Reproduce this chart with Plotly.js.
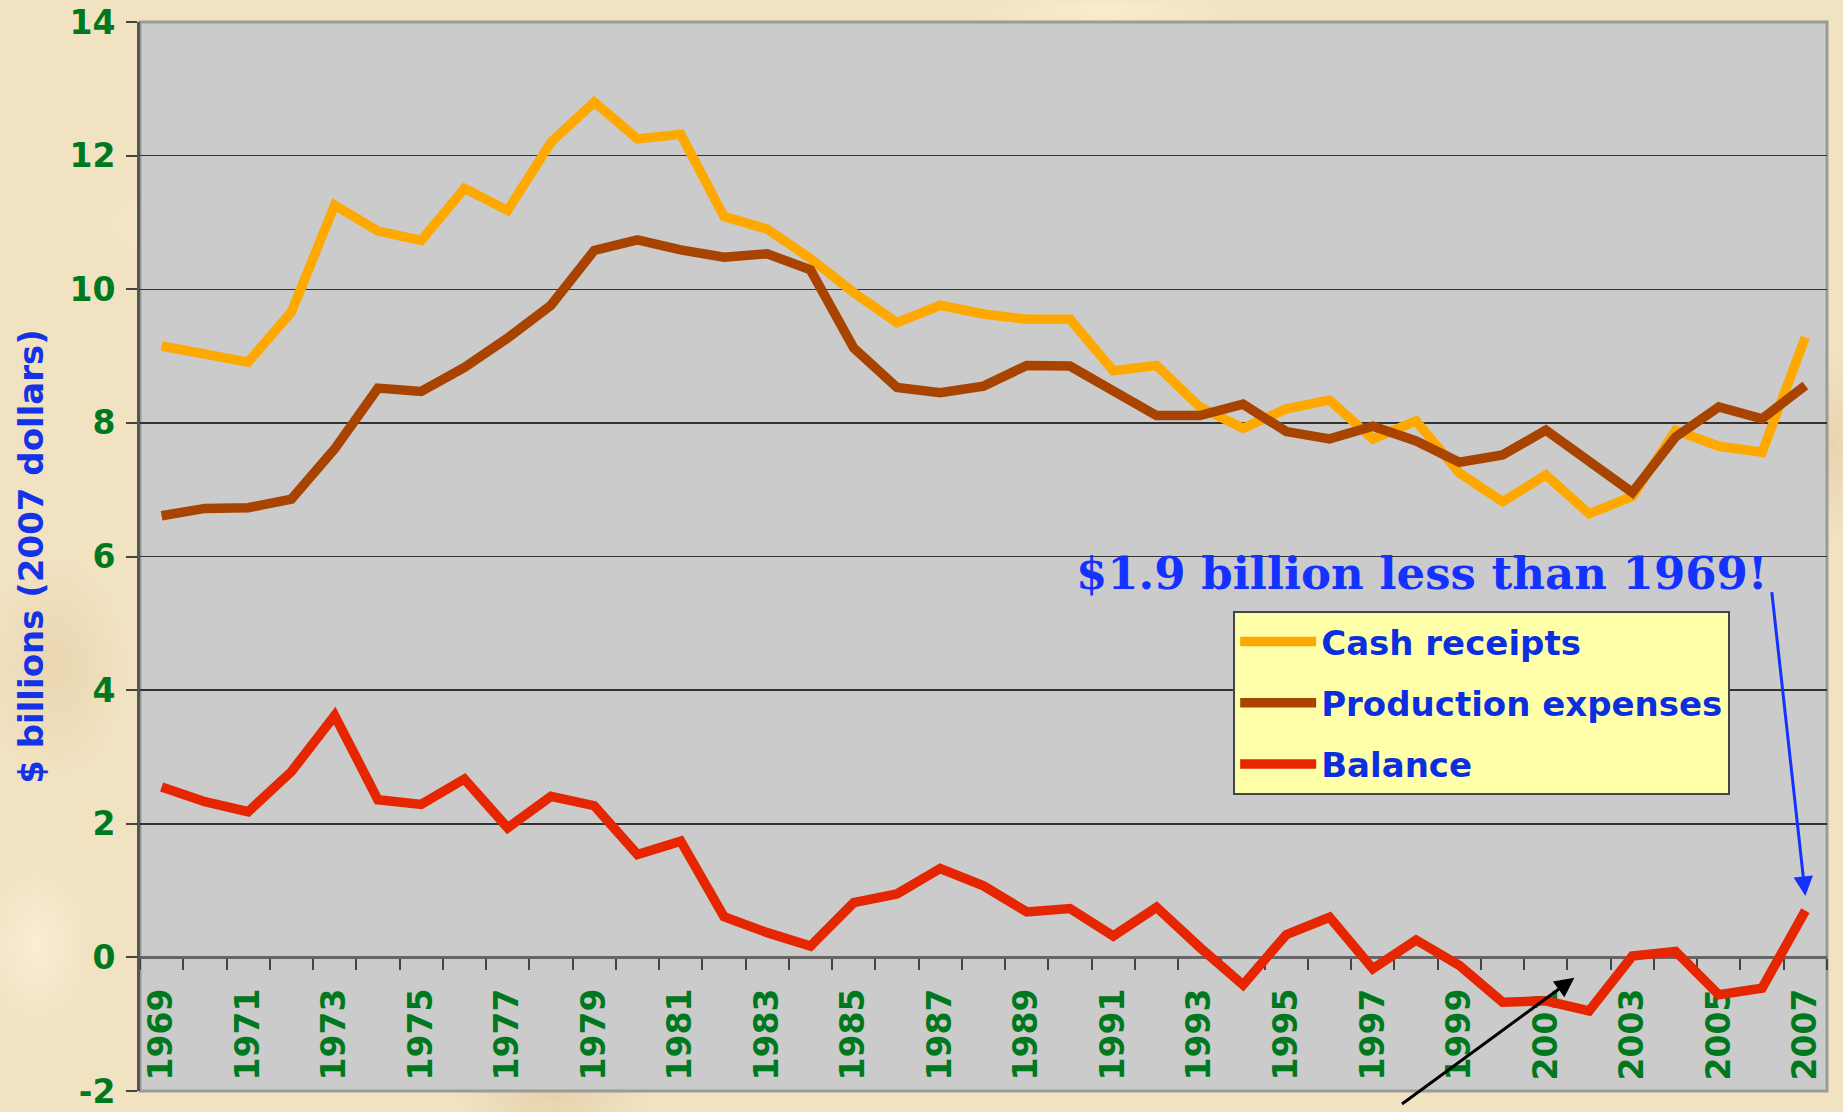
<!DOCTYPE html>
<html>
<head>
<meta charset="utf-8">
<script src="https://cdn.plot.ly/plotly-3.0.1.min.js"></script>
<style>
  html, body { margin: 0; padding: 0; }
  body {
    width: 1843px; height: 1112px; overflow: hidden;
    background-color: #f1e2c2;
    background-image:
      radial-gradient(ellipse 120px 60px at 10% 20%, rgba(255,245,220,0.6), rgba(255,245,220,0) 70%),
      radial-gradient(ellipse 140px 80px at 30% 98%, rgba(215,190,145,0.45), rgba(215,190,145,0) 70%),
      radial-gradient(ellipse 100px 160px at 3% 60%, rgba(225,200,155,0.45), rgba(225,200,155,0) 70%),
      radial-gradient(ellipse 90px 140px at 99% 40%, rgba(220,195,150,0.45), rgba(220,195,150,0) 70%),
      radial-gradient(ellipse 200px 30px at 60% 1%, rgba(255,240,210,0.7), rgba(255,240,210,0) 70%),
      radial-gradient(ellipse 80px 120px at 2% 85%, rgba(255,245,225,0.6), rgba(255,245,225,0) 70%);
  }
  #chart { width: 1843px; height: 1112px; }
</style>
</head>
<body>
<div id="chart"></div>
<script>
// ---- data ----
const years = [1969,1970,1971,1972,1973,1974,1975,1976,1977,1978,1979,1980,1981,1982,1983,1984,1985,1986,1987,1988,1989,1990,1991,1992,1993,1994,1995,1996,1997,1998,1999,2000,2001,2002,2003,2004,2005,2006,2007];

const cashReceipts = [9.15,9.04,8.91,9.66,11.26,10.87,10.73,11.51,11.18,12.2,12.8,12.25,12.32,11.09,10.9,10.46,9.95,9.5,9.76,9.63,9.55,9.55,8.78,8.86,8.24,7.92,8.21,8.34,7.76,8.03,7.25,6.82,7.22,6.64,6.9,7.89,7.65,7.56,9.28];

const productionExpenses = [6.61,6.72,6.73,6.86,7.61,8.52,8.47,8.83,9.27,9.76,10.58,10.74,10.59,10.48,10.53,10.29,9.12,8.53,8.45,8.55,8.86,8.85,8.48,8.11,8.11,8.28,7.87,7.76,7.95,7.73,7.41,7.52,7.89,7.41,6.96,7.79,8.24,8.06,8.56];

const balance = [2.55,2.33,2.18,2.78,3.62,2.36,2.29,2.67,1.94,2.41,2.27,1.54,1.74,0.61,0.37,0.17,0.82,0.95,1.33,1.07,0.68,0.73,0.32,0.75,0.15,-0.41,0.34,0.60,-0.17,0.26,-0.12,-0.67,-0.65,-0.80,0.02,0.09,-0.56,-0.46,0.70];

const seriesNames = ["Cash receipts", "Production expenses", "Balance"];
const yTickValues = [-2, 0, 2, 4, 6, 8, 10, 12, 14];
const yTickLabels = ["-2", "0", "2", "4", "6", "8", "10", "12", "14"];
const yTitle = "$ billions (2007 dollars)";
const noteText = "$1.9 billion less than 1969!";

// ---- styles ----
const colors = ["#FFA800", "#A94400", "#E62600"];
const green = "#00781E";
const blue = "#0A2EE0";
const sansBold = {family: "DejaVu Sans, Verdana, sans-serif", weight: "bold"};

const seriesData = [cashReceipts, productionExpenses, balance];
const traces = seriesData.map((vals, i) => ({
  type: "scatter",
  mode: "lines",
  x: years,
  y: vals,
  name: seriesNames[i],
  legendgroup: "g" + i,
  line: {color: colors[i], width: 9.5},
  hoverinfo: "skip"
}));

const layout = {
  width: 1843,
  height: 1112,
  margin: {l: 140, r: 16, t: 22, b: 21, pad: 0},
  paper_bgcolor: "rgba(0,0,0,0)",
  plot_bgcolor: "#CBCBCB",
  showlegend: true,
  legend: {
    x: 0.648, y: 0.449, xanchor: "left", yanchor: "top",
    bgcolor: "#FFFFAA",
    bordercolor: "#444",
    borderwidth: 2,
    font: Object.assign({size: 34, color: blue}, sansBold),
    traceorder: "grouped",
    tracegroupgap: 14,
    itemwidth: 76
  },
  xaxis: {
    range: [1968.5, 2007.5],
    anchor: "free",
    position: 0.125,
    showgrid: false,
    zeroline: false,
    showline: true,
    linecolor: "#666",
    linewidth: 3,
    tickmode: "linear",
    tick0: 1969,
    dtick: 2,
    ticks: "",
    tickangle: -90,
    tickfont: Object.assign({size: 33, color: green}, sansBold),
    ticklabelstandoff: 16,
    minor: {
      tickmode: "linear",
      tick0: 1968.5,
      dtick: 1,
      ticks: "outside",
      ticklen: 11,
      tickwidth: 2,
      tickcolor: "#444",
      showgrid: false
    },
    layer: "below traces",
    fixedrange: true
  },
  yaxis: {
    range: [-2, 14],
    tickmode: "array",
    tickvals: yTickValues,
    ticktext: yTickLabels,
    ticks: "outside",
    ticklen: 11,
    tickwidth: 2,
    tickcolor: "#444",
    showline: true,
    linecolor: "#555",
    linewidth: 3,
    showgrid: true,
    gridcolor: "#333",
    gridwidth: 1.5,
    zeroline: false,
    tickfont: Object.assign({size: 33, color: green}, sansBold),
    ticklabelstandoff: 4,
    title: {
      text: yTitle,
      font: Object.assign({size: 34, color: "#1432E6"}, sansBold),
      standoff: 16
    },
    fixedrange: true
  },
  shapes: [
    {type: "rect", xref: "paper", yref: "paper", x0: 0, x1: 1, y0: 0, y1: 1,
     line: {color: "#9A9A9A", width: 3}, fillcolor: "rgba(0,0,0,0)", layer: "below"}
  ],
  annotations: [
    {
      x: 1998.13, y: 5.74, xref: "x", yref: "y",
      text: "<b>" + noteText + "</b>",
      showarrow: false,
      font: {family: "DejaVu Serif, serif", size: 45, color: "#1432FF"}
    },
    {
      x: 2007, y: 0.92, xref: "x", yref: "y",
      ax: 2006.22, ay: 5.49, axref: "x", ayref: "y",
      text: "", showarrow: true,
      arrowcolor: "#1432FF", arrowwidth: 3, arrowhead: 2, arrowsize: 1.3, standoff: 0
    },
    {
      x: 2001.66, y: -0.305, xref: "x", yref: "y",
      ax: 1997.64, ay: -2.21, axref: "x", ayref: "y",
      text: "", showarrow: true,
      arrowcolor: "#000000", arrowwidth: 3, arrowhead: 2, arrowsize: 1.3, standoff: 0
    }
  ]
};

Plotly.newPlot("chart", traces, layout, {displayModeBar: false, staticPlot: true});
</script>
</body>
</html>
